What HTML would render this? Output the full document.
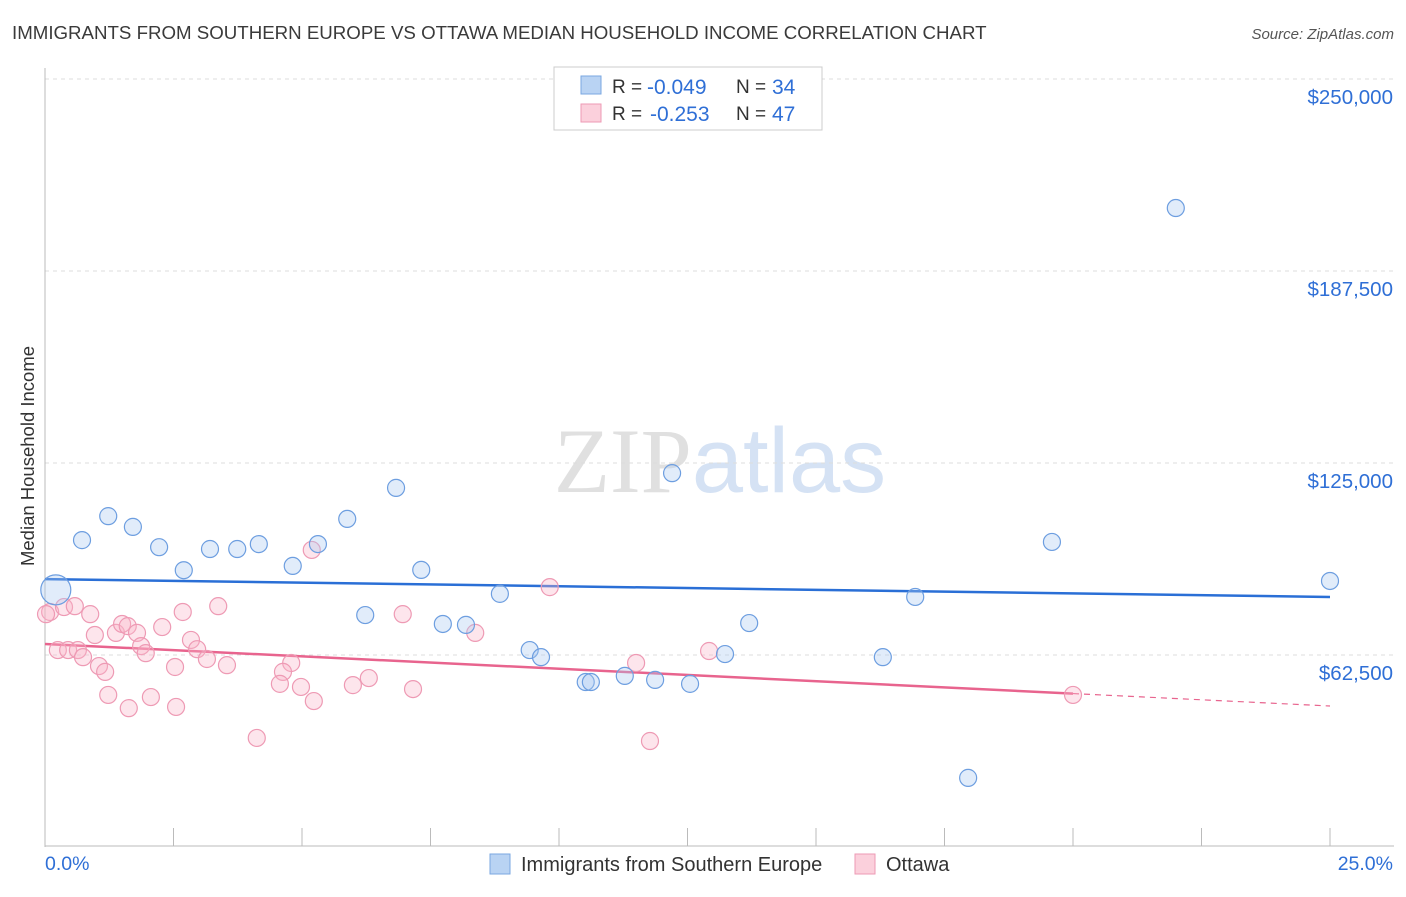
<!DOCTYPE html>
<html><head><meta charset="utf-8"><style>
body{margin:0;background:#fff;font-family:"Liberation Sans",sans-serif;}
svg text{font-family:"Liberation Sans",sans-serif;}
</style></head><body>
<svg id="chart" width="1406" height="892" viewBox="0 0 1406 892" xmlns="http://www.w3.org/2000/svg">
<text x="12" y="39" font-size="18.7" fill="#3a3a3a">IMMIGRANTS FROM SOUTHERN EUROPE VS OTTAWA MEDIAN HOUSEHOLD INCOME CORRELATION CHART</text>
<text x="1394" y="39" font-size="15" fill="#555" text-anchor="end" font-style="italic">Source: ZipAtlas.com</text>
<text x="720" y="492" font-size="92" text-anchor="middle"><tspan fill="#e0e0e0" font-family="Liberation Serif">ZIP</tspan><tspan fill="#d5e2f4">atlas</tspan></text>
<text transform="translate(34,456) rotate(-90)" font-size="18.5" fill="#333" text-anchor="middle">Median Household Income</text>
<g id="grid"></g><g id="axes"></g><g id="lines"></g><g id="pts"></g>
<g>
<rect x="554" y="67" width="268" height="63" fill="#fff" stroke="#ccc"/>
<rect x="581" y="76" width="20" height="18" fill="#b9d3f3" stroke="#7aa7e0"/>
<rect x="581" y="104" width="20" height="18" fill="#fbd0dc" stroke="#ee9ab4"/>
<text x="612" y="93" font-size="19" fill="#333">R =</text>
<text x="647" y="94" font-size="21" fill="#2f6fd6">-0.049</text>
<text x="736" y="93" font-size="19" fill="#333">N =</text>
<text x="772" y="94" font-size="21" fill="#2f6fd6">34</text>
<text x="612" y="120" font-size="19" fill="#333">R =</text>
<text x="650" y="121" font-size="21" fill="#2f6fd6">-0.253</text>
<text x="736" y="120" font-size="19" fill="#333">N =</text>
<text x="772" y="121" font-size="21" fill="#2f6fd6">47</text>
</g>
<g>
<rect x="490" y="854" width="20" height="20" fill="#b9d3f3" stroke="#7aa7e0"/>
<text x="521" y="871" font-size="20" fill="#333">Immigrants from Southern Europe</text>
<rect x="855" y="854" width="20" height="20" fill="#fbd0dc" stroke="#ee9ab4"/>
<text x="886" y="871" font-size="20" fill="#333">Ottawa</text>
</g>
</svg>
<script>
const yTicks=[62500,125000,187500,250000];
const yTickLabels=["$62,500","$125,000","$187,500","$250,000"];
const xTickLabels=["0.0%","25.0%"];
const blueX=[0.21,0.72,1.23,1.71,2.22,2.70,3.21,3.74,4.16,4.82,5.31,5.88,6.23,6.83,7.32,7.74,8.19,8.85,9.43,9.65,10.52,10.62,11.28,11.87,12.20,12.55,13.23,13.70,16.30,16.93,17.96,19.59,22.00,25.0];
const blueY=[83.7,99.9,107.7,104.2,97.6,90.1,97.0,97.0,98.6,91.5,98.6,106.8,75.5,116.9,90.2,72.6,72.3,82.4,64.1,61.8,53.7,53.7,55.7,54.4,121.7,53.1,62.8,72.9,61.8,81.4,22.5,99.3,208.0,86.6];
const pinkX=[0.10,0.37,0.58,0.88,0.97,1.38,1.50,1.61,1.79,2.28,2.68,3.37,0.25,0.45,0.64,0.74,1.05,1.17,1.23,1.63,2.06,2.55,1.87,1.96,2.53,2.84,2.96,3.15,3.54,4.12,4.79,4.63,4.57,4.98,5.23,5.99,6.30,7.16,6.96,8.37,5.19,9.82,11.50,11.77,12.92,20.0,0.02];
const pinkY=[76.5,78.1,78.4,75.8,69.0,69.7,72.6,71.9,69.7,71.6,76.5,78.4,64.1,64.1,64.1,61.8,58.9,57.0,49.5,45.2,48.8,45.6,65.4,63.1,58.6,67.4,64.4,61.2,59.2,35.5,59.9,57.0,53.1,52.1,47.5,52.7,55.0,51.4,75.8,69.7,96.7,84.6,59.9,34.5,63.8,49.5,75.8];
const blueTrend=[87.2,81.4];
const pinkTrend=[66.1,45.9];
const NS="http://www.w3.org/2000/svg";
const xs=p=>45+p/25*1285;
const ys=k=>847-k*1000/62500*192;
function mk(t,a,parent){const e=document.createElementNS(NS,t);for(const k in a)e.setAttribute(k,a[k]);document.getElementById(parent).appendChild(e);return e;}
yTicks.forEach((v,i)=>{
 const g=mk('line',{x1:45,x2:1394,y1:ys(v/1000),y2:ys(v/1000),stroke:'#ddd','stroke-dasharray':'4,4'},'grid');
 
 
 const t=mk('text',{x:1393,y:ys(v/1000)+25,'font-size':20.5,fill:'#2f6fd6','text-anchor':'end'},'grid');
 t.textContent=yTickLabels[i];
 
 
});
const ax=mk('line',{x1:45,x2:45,y1:68,y2:847,stroke:'#bbb'},'axes');


const bx=mk('line',{x1:45,x2:1394,y1:846,y2:846,stroke:'#bbb'},'axes');


for(let i=1;i<=10;i++){const t=mk('line',{x1:xs(i*2.5),x2:xs(i*2.5),y1:828,y2:846,stroke:'#bbb'},'axes');
 
 }
[[0,'start',45],[25,'end',1393]].forEach((d,i)=>{const t=mk('text',{x:d[2],y:870,'font-size':19.5,fill:'#2f6fd6','text-anchor':d[1]},'axes');t.textContent=xTickLabels[i];
 
 });
function pts(X,Y,fill,stroke,name){X.forEach((x,i)=>{const r=(name==='blue-point'&&i===0)?15:8.5;
 const c=mk('circle',{cx:xs(x),cy:ys(Y[i]),r:r,fill:fill,stroke:stroke,'stroke-width':1.2},'pts');
 
 });}
pts(pinkX,pinkY,'rgba(248,180,200,0.35)','#ee9ab4','pink-point');
pts(blueX,blueY,'rgba(170,200,240,0.35)','#6d9ee0','blue-point');
const bl=mk('line',{x1:xs(0),y1:ys(blueTrend[0]),x2:xs(25),y2:ys(blueTrend[1]),stroke:'#2a6fd6','stroke-width':2.5},'lines');


const pk=(p)=>pinkTrend[0]+(pinkTrend[1]-pinkTrend[0])*p/25;
const pl=mk('line',{x1:xs(0),y1:ys(pk(0)),x2:xs(20),y2:ys(pk(20)),stroke:'#e8648e','stroke-width':2.5},'lines');


const pd=mk('line',{x1:xs(20),y1:ys(pk(20)),x2:xs(25),y2:ys(pk(25)),stroke:'#e8648e','stroke-width':1.2,'stroke-dasharray':'6,5'},'lines');


</script>
</body></html>
